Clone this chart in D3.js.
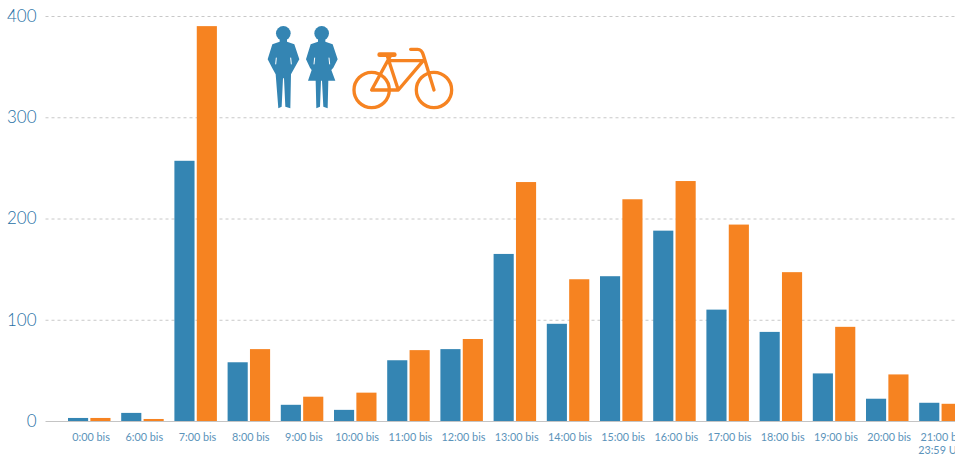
<!DOCTYPE html>
<html>
<head>
<meta charset="utf-8">
<script src="https://cdn.jsdelivr.net/npm/d3@7"></script>
<style>
  html, body { margin: 0; background: #fff; overflow: hidden; }
  svg { display: block; font-family: Lato, sans-serif; }
</style>
</head>
<body>
<div id="chart"></div>
<script>
// Pedestrians vs cyclists per time slot

const hours = ["0:00 bis", "6:00 bis", "7:00 bis", "8:00 bis", "9:00 bis", "10:00 bis", "11:00 bis", "12:00 bis",
    "13:00 bis", "14:00 bis", "15:00 bis", "16:00 bis", "17:00 bis", "18:00 bis", "19:00 bis", "20:00 bis", "21:00 bis"];
const lastLine = "23:59 Uhr";
const people = [3, 8, 257, 58, 16, 11, 60, 71, 165, 96, 143, 188, 110, 88, 47, 22, 18];
const bikes = [3, 2, 390, 71, 24, 28, 70, 81, 236, 140, 219, 237, 194, 147, 93, 46, 17];
const yTicks = [0, 100, 200, 300, 400];

const width = 955,
    height = 456,
    blue = "#3485b3",
    orange = "#f68321",
    labelBlue = "#5b93ba",
    margin = ({ top: 16, bottom: 35, left: 62.5 }),
    step = 53.2;

const svg = d3.select("#chart")
    .append("svg")
    .attr("width", width)
    .attr("height", height);

const x = d3.scaleBand()
    .domain(hours)
    .range([margin.left, margin.left + step * hours.length]);

const x1 = d3.scaleBand()
    .domain(["people", "bikes"])
    .range([5.5, 48])
    .paddingInner(0.1);

const y = d3.scaleLinear()
    .domain([0, 400])
    .range([height - margin.bottom, margin.top]);

// gridlines + y labels
const yAxis = svg.append("g")
    .attr("transform", `translate(${margin.left - 17},0)`)
    .call(d3.axisLeft(y).tickValues(yTicks).tickSize(0).tickPadding(9));
yAxis.select(".domain").remove();
yAxis.selectAll("text")
    .attr("fill", "#1f70a5")
    .style("font-size", "17px")
    .style("font-family", "Lato, sans-serif")
    .style("font-weight", 300);
yAxis.selectAll("line")
    .attr("x1", 0)
    .attr("x2", width)
    .attr("stroke", d => d === 0 ? "#c4c4c4" : "#c8c8c8")
    .attr("stroke-width", 1)
    .attr("stroke-dasharray", d => d === 0 ? null : "3,3");

// bars
const groups = svg.append("g")
    .selectAll("g")
    .data(hours)
    .join("g")
    .attr("transform", d => `translate(${x(d)},0)`);

groups.append("rect")
    .attr("x", x1("people"))
    .attr("y", (d, i) => y(people[i]))
    .attr("width", x1.bandwidth())
    .attr("height", (d, i) => y(0) - y(people[i]))
    .attr("fill", blue);

groups.append("rect")
    .attr("x", x1("bikes"))
    .attr("y", (d, i) => y(bikes[i]))
    .attr("width", x1.bandwidth())
    .attr("height", (d, i) => y(0) - y(bikes[i]))
    .attr("fill", orange);

// x labels
const xAxis = svg.append("g")
    .attr("transform", `translate(2,${y(0)})`)
    .call(d3.axisBottom(x).tickSize(0).tickPadding(12));
xAxis.select(".domain").remove();
xAxis.selectAll("text")
    .attr("fill", labelBlue)
    .style("font-size", "10.8px")
    .style("font-family", "Lato, sans-serif");

xAxis.append("text")
    .attr("x", x(hours[hours.length - 1]) + x.bandwidth() / 2)
    .attr("y", 33)
    .attr("text-anchor", "middle")
    .attr("fill", labelBlue)
    .style("font-size", "10.8px")
    .style("font-family", "Lato, sans-serif")
    .text(lastLine);

// icons, drawn at 3x and scaled down
const icons = svg.append("g")
    .attr("transform", "translate(255,15) scale(0.3333)");

const figures = [
    { cx: 85, body: "M74 70H96V80L118 88L133 133L118 160L108 178L106 280L91 275L87 190L84 190L80 275L70 280L62 178L52 160L38 133L52 88L74 80Z",
      slits: "M64 128L62 148M107 128L109 148" },
    { cx: 200, body: "M189 70H211V80L233 88L248 133L235 158L229 165L241 197L220 197L218 280L205 275L201 197L198 197L195 275L184 280L182 197L159 197L170 165L165 158L153 133L167 88L189 80Z",
      slits: "M179 128L177 148M222 128L224 148" }
];

figures.forEach(f => {
    icons.append("circle").attr("cx", f.cx).attr("cy", 55).attr("r", 22).attr("fill", blue);
    icons.append("path").attr("d", f.body).attr("fill", blue);
    icons.append("path").attr("d", f.slits).attr("stroke", "#fff").attr("stroke-width", 3).attr("fill", "none");
});

const bike = icons.append("g")
    .attr("fill", "none")
    .attr("stroke", orange)
    .attr("stroke-width", 10)
    .attr("stroke-linecap", "round")
    .attr("stroke-linejoin", "round");

bike.append("circle").attr("cx", 350).attr("cy", 225).attr("r", 53);
bike.append("circle").attr("cx", 537).attr("cy", 225).attr("r", 53);
bike.append("path").attr("d", "M405 125L350 225H430L505 137H402M396 120L430 225");
bike.append("path").attr("d", "M467 103H488Q500 103 505 120L537 225");
bike.append("path").attr("d", "M374 119H418").attr("stroke-width", 14);
</script>
</body>
</html>
